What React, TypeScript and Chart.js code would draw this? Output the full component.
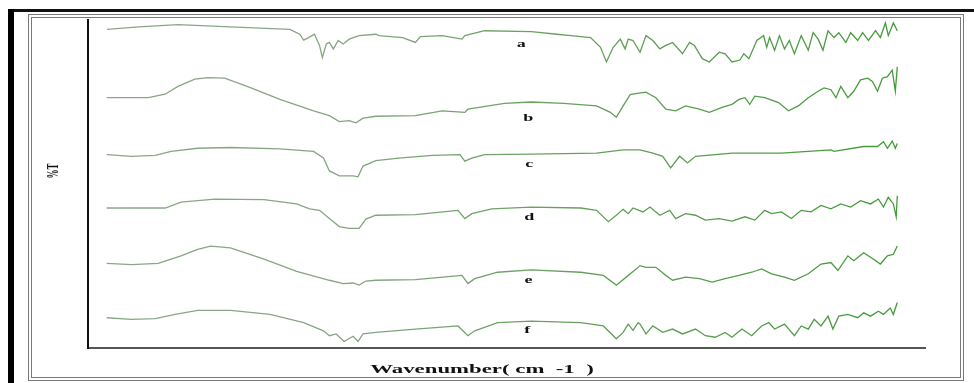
import React, { useEffect, useRef } from "react";
import { Chart, registerables } from "chart.js";

Chart.register(...registerables);

// Wavenumber (cm-1) and stacked %T display values
const waveA = [3995,3851,3672,3433,3163,3118,3100,3078,3051,3028,3015,2997,2983,2965,2943,2920,2893,2848,2772,2758,2650,2592,2569,2470,2380,2367,2277,2065,1948,1885,1795,1750,1723,1692,1660,1638,1624,1602,1570,1543,1512,1480,1453,1422,1377,1345,1323,1287,1255,1210,1183,1152,1116,1098,1075,1039,1008,994,981,958,936,913,891,868,837,805,783,760,738,715,688,666,634,612,580,558,531,499,477,454,441,418,400];
const valsA = [163.2,164.5,165.6,164.5,163.2,160.7,157.7,159,160.7,155,148.7,155.7,156.5,153.2,157.5,155.7,158.2,160,160.7,160,159,156.5,159.5,160,158.2,160,162.5,162,160.7,160,159,154,146.5,154,158.2,153.2,158.2,157.5,151.5,160,157.5,153.2,155,156.5,150.7,156.5,155,148.2,146.5,151.5,150.7,146.5,147.5,150.7,148.2,157.5,160,154,159,152.5,160,153.2,157.5,150.7,160,152.5,161.5,158.2,152.5,162.5,159,161.5,156.5,161.5,157.5,161.5,157.5,162.5,159,166.5,160,166.5,162.5];

const waveB = [3996,3807,3730,3672,3595,3537,3460,3357,3208,3055,2983,2938,2893,2862,2830,2772,2592,2470,2367,2353,2187,2065,1917,1768,1705,1678,1647,1615,1570,1543,1498,1453,1408,1363,1300,1255,1197,1152,1120,1093,1071,1048,1003,940,895,850,805,760,733,702,679,657,625,598,567,535,513,490,468,445,423,409,400];
const valsB = [128.2,128.2,130,134,137.7,138.5,138.2,134,127.3,121.5,119,116,116.5,115.3,117.7,118.7,119,121.5,120.7,122.3,125.3,126,125.3,124,120.7,118.2,124,129.8,130.7,131,128.2,122.3,121.5,124,122.3,120.7,123.2,124.8,127.3,128.2,124.8,129,128.2,125.7,121.5,124,128.2,131.5,133.2,132.3,128.2,134,128.2,131.5,137.3,138.2,136.5,131.5,138.2,139,142.3,131.5,144];

const waveC = [3996,3883,3775,3703,3582,3433,3208,3055,3010,2983,2938,2875,2853,2830,2772,2668,2515,2389,2367,2335,2277,2065,1768,1647,1570,1512,1467,1431,1390,1354,1318,1152,927,702,688,553,490,463,445,423,409,400];
const valsC = [99,98.2,98.7,100.7,102.3,102.7,102,100.7,97.3,90.7,88.2,88.2,87.7,93.2,96,97.3,98.7,99,95.7,97.3,99,99.3,99.8,101.5,101.5,99.8,98.2,92.3,98.2,94.8,98.2,99.8,99.8,101.5,100.7,103.2,103.2,105.7,102.3,106,102.3,104.8];

const waveD = [3996,3852,3730,3658,3505,3280,3132,3073,3028,2983,2938,2893,2848,2817,2772,2592,2398,2367,2335,2245,2065,1840,1768,1714,1678,1647,1624,1602,1557,1525,1480,1435,1408,1363,1318,1273,1210,1152,1093,1048,1003,972,927,882,837,792,747,702,657,612,567,522,486,463,441,418,405,400];
const valsD = [71.7,71.7,71.7,74.7,76.3,76,73.8,71.3,70.5,66.3,62.2,61.3,61.3,66,68,68.3,70.5,66.3,68.8,71.3,72.2,71.7,70.5,64.7,68,71,68.8,71.7,69.7,72.2,68,70.5,66.3,68.8,68,65.5,66.3,65,67.2,65.5,70.5,68.8,69.7,66.3,70.5,69.7,73,71.3,73.8,72.2,75.5,73.8,76.3,72.2,77.2,73.8,67.2,78];

const waveE = [3996,3883,3762,3658,3582,3523,3433,3280,3132,2983,2920,2875,2848,2817,2772,2592,2380,2353,2322,2218,2065,1840,1737,1678,1633,1588,1570,1543,1498,1453,1422,1363,1300,1242,1183,1120,1062,1017,972,913,868,805,747,702,670,625,598,553,508,477,445,418,400];
const valsE = [43.3,42.7,43.3,47.2,50.5,52.2,51.3,45.5,39.3,34.7,33,33.3,32.2,34.3,34.7,35,37.2,33,35.5,38.8,40,38.8,37.2,32.2,36.3,40.5,42.2,41.3,41.3,37.2,34.7,36.3,35.5,33.8,35.5,37.2,38.8,40.5,38,36.3,34.7,38,43,43.8,39.7,47.2,44.7,48.8,45.5,43,47.2,48,52.2];

const waveF = [3996,3883,3775,3685,3582,3433,3253,3100,3010,2983,2952,2916,2875,2853,2830,2772,2592,2398,2353,2322,2218,2065,1840,1737,1678,1647,1624,1602,1579,1570,1543,1512,1467,1422,1377,1318,1273,1228,1183,1152,1107,1062,1017,985,958,913,868,837,805,778,747,715,693,666,625,580,553,522,486,463,432,418,400];
const valsF = [15.5,14.7,15,17.2,19.3,19.3,17.2,13,8.8,6.3,7.2,3.3,6,3.3,7.2,8,9.7,11.3,6.3,8.8,13,13.8,13,11.3,4.7,8,12.2,9,13,12.2,7.2,11.3,8,9.7,7.2,9.7,6.3,5.5,8,5.5,9.7,6.3,11.3,13,9.7,12.2,6.3,11.3,9.7,14.7,11.3,16.3,9.7,16.3,17.2,15.5,18,16.3,18.8,17.2,20.5,17.2,23.3];

const seriesNames = ["a", "b", "c", "d", "e", "f"];
const seriesWaves = [waveA, waveB, waveC, waveD, waveE, waveF];
const seriesVals = [valsA, valsB, valsC, valsD, valsE, valsF];
// trace label anchors (wavenumber, value)
const labelWaves = [2110, 2078, 2074, 2074, 2078, 2083];
const labelVals = [155.5, 117.5, 94, 67, 34.5, 9];

const xTitle = "Wavenumber( cm  -1  )";
const yTitle = "%T";

const textPlugin = {
  id: "stretchedText",
  afterDraw(chart: any) {
    const { ctx, scales } = chart;
    const sx = 1.8;
    ctx.save();
    ctx.fillStyle = "#111";
    ctx.textAlign = "center";
    ctx.textBaseline = "middle";
    ctx.font = "bold 10px 'Liberation Serif', serif";
    seriesNames.forEach((n, i) => {
      const x = scales.x.getPixelForValue(labelWaves[i]);
      const y = scales.y.getPixelForValue(labelVals[i]);
      ctx.save();
      ctx.translate(x, y);
      ctx.scale(sx, 1);
      ctx.fillText(n, 0, 0);
      ctx.restore();
    });
    // x title
    ctx.save();
    ctx.font = "bold 12px 'Liberation Serif', serif";
    ctx.translate(482, 370);
    ctx.scale(1.9, 1);
    ctx.fillText(xTitle, 0, 0);
    ctx.restore();
    // y title
    ctx.save();
    ctx.font = "bold 9px 'Liberation Serif', serif";
    ctx.translate(54, 171);
    ctx.scale(sx, 1);
    ctx.rotate(-Math.PI / 2);
    ctx.fillText(yTitle, 0, 0);
    ctx.restore();
    ctx.restore();
  },
};

function strokeGradient(context: any) {
  const chart = context.chart;
  const area = chart.chartArea;
  if (!area) return "#5a9e50";
  const g = chart.ctx.createLinearGradient(area.left, 0, area.right, 0);
  g.addColorStop(0, "#8aa788");
  g.addColorStop(0.3, "#85a583");
  g.addColorStop(0.55, "#6aa05f");
  g.addColorStop(1, "#3f9a36");
  return g;
}

export default function App() {
  const ref = useRef<HTMLCanvasElement | null>(null);
  useEffect(() => {
    if (!ref.current) return;
    const chart = new Chart(ref.current, {
      type: "line",
      data: {
        datasets: seriesNames.map((n, i) => ({
          label: n,
          data: seriesWaves[i].map((w, j) => ({ x: w, y: seriesVals[i][j] })),
          borderColor: strokeGradient,
          borderWidth: 1.3,
          pointRadius: 0,
          tension: 0,
          fill: false,
        })),
      },
      options: {
        animation: false,
        responsive: false,
        maintainAspectRatio: false,
        layout: { padding: { left: 80, right: 49, top: 20, bottom: 27 } },
        plugins: { legend: { display: false }, tooltip: { enabled: false } },
        scales: {
          x: {
            type: "linear",
            reverse: true,
            min: 274,
            max: 4081,
            grid: { display: false },
            ticks: { display: false },
            border: { display: true, color: "#555", width: 2 },
          },
          y: {
            min: 0,
            max: 168,
            grid: { display: false },
            ticks: { display: false },
            border: { display: true, color: "#111", width: 2 },
          },
        },
      },
      plugins: [textPlugin],
    });
    return () => chart.destroy();
  }, []);

  return (
    <div style={{ position: "fixed", left: 0, top: 0, width: 974, height: 383, background: "#fff", overflow: "hidden" }}>
      <div style={{ position: "absolute", left: 8, top: 9, width: 966, height: 3, background: "#111" }} />
      <div style={{ position: "absolute", left: 8, top: 9, width: 6, height: 374, background: "#000" }} />
      <div style={{ position: "absolute", left: 28, top: 14, width: 936, height: 367, boxSizing: "border-box", border: "4px double #7a7a7a" }} />
      <canvas ref={ref} width={974} height={383} style={{ position: "absolute", left: 0, top: 0, width: 974, height: 383 }} />
    </div>
  );
}
